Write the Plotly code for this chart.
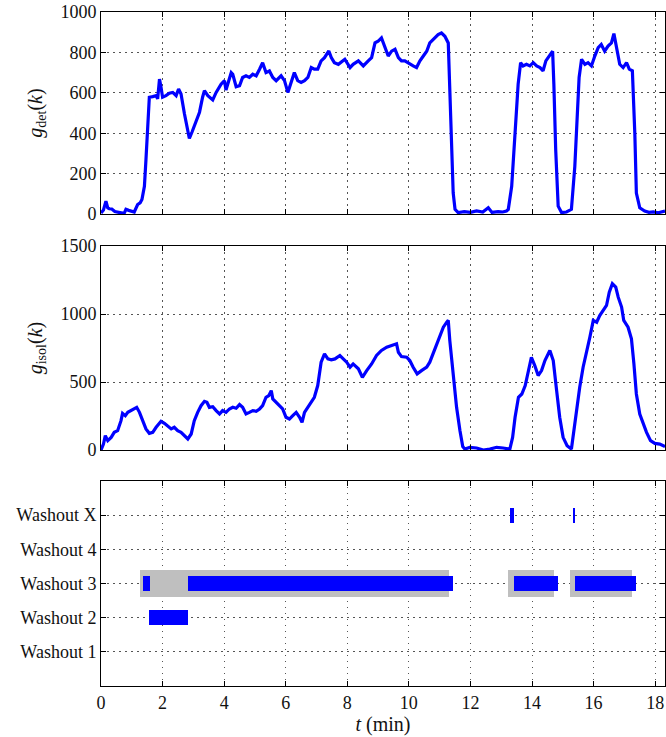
import plotly.graph_objects as go

# Detector output g_det(k) over time (minutes)
t_det = [0.00, 0.08, 0.16, 0.22, 0.27, 0.35, 0.45, 0.60, 0.70, 0.76, 0.81, 0.90, 0.98, 1.08, 1.19, 1.27,
         1.33, 1.41, 1.46, 1.52, 1.57, 1.68, 1.79, 1.84, 1.90, 1.95, 2.00, 2.11, 2.22, 2.33, 2.44, 2.52,
         2.60, 2.71, 2.82, 2.87, 2.96, 3.09, 3.20, 3.30, 3.36, 3.47, 3.63, 3.74, 3.90, 4.01, 4.06, 4.15,
         4.23, 4.28, 4.39, 4.50, 4.60, 4.71, 4.82, 4.93, 5.04, 5.15, 5.25, 5.36, 5.47, 5.58, 5.69, 5.85,
         5.96, 6.07, 6.18, 6.28, 6.39, 6.50, 6.61, 6.72, 6.83, 6.93, 7.04, 7.15, 7.26, 7.40, 7.48, 7.58,
         7.71, 7.92, 8.09, 8.19, 8.36, 8.52, 8.68, 8.79, 8.90, 9.00, 9.11, 9.22, 9.33, 9.44, 9.55, 9.66,
         9.76, 9.87, 10.03, 10.14, 10.25, 10.36, 10.47, 10.58, 10.68, 10.85, 10.95, 11.06, 11.17, 11.28,
         11.33, 11.39, 11.44, 11.50, 11.60, 11.80, 12.00, 12.20, 12.40, 12.58, 12.70, 12.90, 13.05, 13.17,
         13.23, 13.34, 13.44, 13.55, 13.63, 13.71, 13.82, 13.93, 14.04, 14.15, 14.26, 14.36, 14.45, 14.58,
         14.67, 14.71, 14.77, 14.85, 14.96, 15.12, 15.28, 15.39, 15.47, 15.53, 15.61, 15.72, 15.82, 15.93,
         16.04, 16.15, 16.25, 16.36, 16.47, 16.58, 16.66, 16.75, 16.85, 16.96, 17.07, 17.16, 17.26, 17.34,
         17.39, 17.50, 17.66, 17.80, 17.94, 18.10, 18.32]
g_det = [5, 20, 64, 30, 26, 25, 12, 7, 4, 6, 23, 18, 15, 10, 47, 55,
         72, 137, 268, 431, 578, 581, 586, 570, 668, 627, 578, 586, 598, 602, 586, 619,
         594, 496, 398, 374, 407, 464, 504, 578, 611, 586, 565, 602, 643, 660, 614, 660,
         700, 692, 630, 635, 676, 684, 676, 692, 684, 717, 749, 700, 708, 676, 660, 684,
         660, 602, 651, 700, 660, 651, 660, 676, 725, 717, 717, 758, 774, 807, 774, 749,
         741, 766, 725, 741, 758, 733, 758, 774, 847, 855, 872, 823, 782, 806, 815, 774,
         758, 758, 741, 733, 725, 758, 782, 806, 847, 872, 888, 896, 880, 847,
         643, 317, 104, 23, 7, 12, 8, 15, 10, 31, 8, 12, 10, 15,
         23, 137, 398, 643, 749, 733, 741, 733, 749, 733, 725, 709, 758, 790,
         806, 643, 317, 39, 7, 10, 23, 235, 480, 676, 766, 741, 749, 733,
         782, 823, 839, 806, 831, 847, 893, 823, 741, 725, 749, 717, 709, 398,
         104, 31, 15, 8, 10, 6, 15]

# Isolation output g_isol(k) over time (minutes)
t_isol = [0.00, 0.08, 0.14, 0.22, 0.33, 0.43, 0.54, 0.65, 0.70, 0.79, 0.87, 0.98, 1.08, 1.16, 1.25, 1.35,
          1.46, 1.57, 1.68, 1.79, 1.95, 2.06, 2.17, 2.28, 2.38, 2.49, 2.60, 2.71, 2.82, 2.93, 3.03, 3.14,
          3.25, 3.36, 3.44, 3.52, 3.63, 3.74, 3.85, 3.95, 4.06, 4.17, 4.28, 4.39, 4.50, 4.60, 4.71, 4.82,
          4.93, 5.04, 5.15, 5.25, 5.36, 5.45, 5.53, 5.58, 5.69, 5.80, 5.90, 6.01, 6.12, 6.23, 6.34, 6.45,
          6.53, 6.61, 6.72, 6.83, 6.93, 7.04, 7.15, 7.26, 7.37, 7.48, 7.60, 7.76, 7.87, 7.98, 8.09, 8.19,
          8.36, 8.49, 8.63, 8.79, 8.95, 9.11, 9.28, 9.44, 9.60, 9.66, 9.76, 9.93, 10.03, 10.14, 10.27, 10.41,
          10.58, 10.68, 10.79, 10.90, 11.01, 11.12, 11.23, 11.28, 11.33, 11.44, 11.55, 11.66, 11.75, 11.82,
          11.98, 12.20, 12.42, 12.63, 12.85, 13.06, 13.28, 13.37, 13.45, 13.56, 13.67, 13.78, 13.88, 13.98,
          14.09, 14.20, 14.31, 14.42, 14.58, 14.69, 14.80, 14.90, 15.01, 15.14, 15.28, 15.36, 15.45, 15.55,
          15.66, 15.79, 15.88, 15.99, 16.10, 16.20, 16.31, 16.42, 16.51, 16.61, 16.72, 16.80, 16.91, 16.98,
          17.12, 17.23, 17.31, 17.39, 17.50, 17.61, 17.72, 17.85, 17.99, 18.15, 18.32]
g_isol = [0, 44, 106, 69, 93, 130, 142, 216, 270, 253, 277, 290, 302, 314, 277, 216,
          155, 123, 130, 167, 211, 196, 179, 155, 167, 142, 130, 106, 81, 118, 216, 277,
          326, 358, 351, 314, 319, 290, 265, 290, 277, 302, 314, 307, 334, 314, 265, 277,
          290, 285, 302, 326, 388, 400, 437, 376, 351, 326, 302, 241, 228, 253, 277, 241,
          204, 277, 314, 344, 388, 474, 646, 707, 670, 663, 670, 695, 670, 646, 609, 633,
          597, 535, 584, 633, 695, 732, 756, 768, 781, 719, 687, 682, 658, 609, 560, 584,
          609, 646, 707, 768, 830, 903, 940, 953, 805, 535, 314, 142, 25, 7,
          20, 15, 0, 7, 20, 15, 7, 93, 241, 388, 412, 474, 584, 682,
          621, 548, 584, 658, 732, 658, 437, 241, 93, 32, 7, 142, 314, 462,
          609, 732, 830, 953, 940, 989, 1026, 1063, 1161, 1223, 1198, 1124, 1051, 953,
          903, 818, 633, 412, 265, 192, 130, 69, 49, 44, 25]

# Washout timeline: categories and active intervals (start, end) in minutes
washout_labels = ["Washout 1", "Washout 2", "Washout 3", "Washout 4", "Washout X"]
washout_levels = [1, 2, 3, 4, 5]

window_level = [3, 3, 3]
window_start = [1.27, 13.22, 15.25]
window_end = [11.31, 14.70, 17.26]

active_level = [3, 3, 3, 3, 3, 3, 2, 5, 5]
active_start = [1.37, 2.84, 4.45, 7.97, 13.40, 15.39, 1.57, 13.29, 15.32]
active_end = [1.58, 4.45, 7.97, 11.44, 14.84, 17.39, 2.81, 13.40, 15.39]

BLUE = "#0000ff"
GRAY = "#bfbfbf"
FONT = "Liberation Serif"
GRID_DASH = "1.5px,4.5px"

fig = go.Figure()

fig.add_trace(go.Scatter(x=t_det, y=g_det, mode="lines", line=dict(color=BLUE, width=3.2),
                         xaxis="x", yaxis="y", showlegend=False))
fig.add_trace(go.Scatter(x=t_isol, y=g_isol, mode="lines", line=dict(color=BLUE, width=3.2),
                         xaxis="x2", yaxis="y2", showlegend=False))

fig.add_trace(go.Bar(y=window_level, base=window_start,
                     x=[e - s for s, e in zip(window_start, window_end)],
                     orientation="h", width=0.79, marker=dict(color=GRAY, line=dict(width=0)),
                     xaxis="x3", yaxis="y3", showlegend=False))
fig.add_trace(go.Bar(y=active_level, base=active_start,
                     x=[e - s for s, e in zip(active_start, active_end)],
                     orientation="h", width=0.43, marker=dict(color=BLUE, line=dict(width=0)),
                     xaxis="x3", yaxis="y3", showlegend=False))

tick_font = dict(family=FONT, size=18, color="#111")
common_x = dict(range=[0, 18.32], dtick=2, tick0=0, showgrid=True, gridcolor="#555",
                griddash=GRID_DASH, gridwidth=1, zeroline=False, showline=True, mirror="ticks",
                linecolor="black", linewidth=1, ticks="inside", ticklen=5, tickcolor="black",
                tickfont=tick_font)
common_y = dict(showgrid=True, gridcolor="#555", griddash=GRID_DASH, gridwidth=1, zeroline=False,
                showline=True, mirror="ticks", linecolor="black", linewidth=1, ticks="inside",
                ticklen=5, tickcolor="black", tickfont=tick_font)

fig.update_layout(
    width=666, height=737,
    margin=dict(l=101, r=1, t=12, b=51),
    paper_bgcolor="white", plot_bgcolor="white",
    font=dict(family=FONT, color="#111"),
    barmode="overlay", bargap=0,
    xaxis=dict(common_x, anchor="y", showticklabels=False),
    xaxis2=dict(common_x, anchor="y2", matches="x", showticklabels=False),
    xaxis3=dict(common_x, anchor="y3", matches="x",
                title=dict(text="<i>t</i> (min)", font=dict(family=FONT, size=20), standoff=0)),
    yaxis=dict(common_y, domain=[0.7003, 1.0], range=[0, 1000], dtick=200,
               title=dict(text="<i>g</i><sub>det</sub>(<i>k</i>)", font=dict(family=FONT, size=20),
                          standoff=12)),
    yaxis2=dict(common_y, domain=[0.3501, 0.6528], range=[0, 1500], dtick=500,
                title=dict(text="<i>g</i><sub>isol</sub>(<i>k</i>)", font=dict(family=FONT, size=20),
                           standoff=12)),
    yaxis3=dict(common_y, domain=[0, 0.3042], range=[0, 6], tickmode="array",
                tickvals=washout_levels, ticktext=washout_labels),
)

fig.write_html("out.html")
